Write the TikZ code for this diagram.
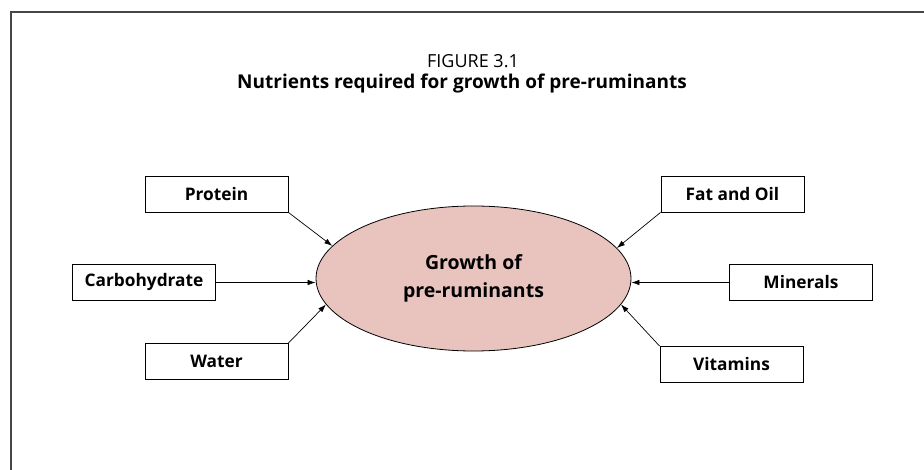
\documentclass[tikz,border=0pt]{standalone}
\usepackage{fontspec}
\setmainfont{Open Sans}
\usepackage{xcolor}
\usetikzlibrary{arrows.meta,shapes.geometric}
\definecolor{growthpink}{RGB}{233,196,191}
\definecolor{framegray}{RGB}{70,70,70}
\tikzset{
  nutrient/.style={draw, line width=0.9pt, minimum width=143pt, minimum height=36pt,
    font=\fontsize{17.3}{20}\selectfont\bfseries, inner sep=0pt},
  feed/.style={line width=0.7pt, -{Latex[length=8pt,width=5.5pt]}}
}
\begin{document}
\begin{tikzpicture}[x=1pt,y=-1pt]
\useasboundingbox (0,0) rectangle (924,470);
\draw[framegray, line width=1.6pt] (924,12) -| (11,470);
\node (fignum) at (473,61) {\fontsize{18}{20}\selectfont FIGURE 3.1};
\node (figtitle) at (462,84) {\fontsize{19}{22}\selectfont\bfseries Nutrients required for growth of pre-ruminants};
\node[ellipse, draw, fill=growthpink, line width=0.8pt, minimum width=315pt, minimum height=145pt,
  align=center, font=\fontsize{19.5}{28}\selectfont\bfseries] (growth) at (473.5,278.5) {Growth of\\pre-ruminants};
\node[nutrient] (protein) at (216.5,194) {Protein};
\node[nutrient] (carb) at (144,282.5) {Carbohydrate};
\node[nutrient] (water) at (216.5,361.5) {Water};
\node[nutrient] (fat) at (732.5,194) {Fat and Oil};
\node[nutrient] (minerals) at (801,282.5) {Minerals};
\node[nutrient] (vitamins) at (731.5,364.5) {Vitamins};
\draw[feed] (protein.south east) -- (growth.167);
\draw[feed] (carb.east) -- (carb.east -| growth.west);
\draw[feed] (water.north east) -- (growth.190);
\draw[feed] (fat.south west) -- (growth.12);
\draw[feed] (minerals.west) -- (minerals.west -| growth.east);
\draw[feed] (vitamins.north west) -- (growth.-10);
\end{tikzpicture}
\end{document}
